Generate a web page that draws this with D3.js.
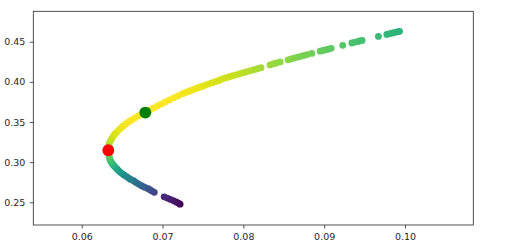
<!DOCTYPE html>
<html>
<head>
<meta charset="utf-8">
<script src="https://cdnjs.cloudflare.com/ajax/libs/d3/7.8.5/d3.min.js"></script>
<style>
    body { margin: 0; background: #fff; }
    svg { display: block; }
    .tick text { font-family: "DejaVu Sans", sans-serif; font-size: 9.5px; fill: #262626; }
    .tick line { stroke: #262626; stroke-width: 0.8; }
</style>
</head>
<body>
<svg width="517" height="252"></svg>
<script>
// DATA ======================================================================
// portfolio volatility / return along the frontier, bottom to top
const vols = [
    0.07217, 0.07195, 0.07168, 0.07132, 0.07095, 0.07058, 0.07020,
    0.06898, 0.06870, 0.06843, 0.06815, 0.06776, 0.06745, 0.06715, 0.06690, 0.06664,
    0.06640, 0.06606, 0.06580, 0.06555, 0.06527, 0.06500, 0.06475, 0.06455, 0.06436,
    0.06416, 0.06398, 0.06380, 0.06365, 0.06352, 0.06345, 0.06338, 0.06334, 0.06331,
    0.06330,
    0.06331, 0.06334, 0.06339, 0.06348, 0.06360, 0.06375, 0.06392, 0.06412, 0.06434,
    0.06458, 0.06485, 0.06515, 0.06546, 0.06580, 0.06618, 0.06658, 0.06700, 0.06745, 0.06795,
    0.06846, 0.06893, 0.06940, 0.06987, 0.07034, 0.07085, 0.07138, 0.07190, 0.07244,
    0.07275, 0.07305, 0.07338, 0.07370, 0.07402, 0.07435, 0.07470, 0.07505, 0.07540,
    0.07575, 0.07611, 0.07647, 0.07680, 0.07712,
    0.07749, 0.07790, 0.07830, 0.07870, 0.07910, 0.07950, 0.07990, 0.08030, 0.08070,
    0.08110, 0.08150, 0.08185, 0.08219,
    0.08330, 0.08370, 0.08410, 0.08456,
    0.08553, 0.08590, 0.08630, 0.08670, 0.08710, 0.08750, 0.08790, 0.08847,
    0.08950, 0.08985, 0.09020, 0.09055, 0.09086,
    0.09230,
    0.09342, 0.09375, 0.09410, 0.09440, 0.09469,
    0.09671,
    0.09775, 0.09810, 0.09845, 0.09880, 0.09910, 0.09933
];
const rets = [
    0.2477, 0.2490, 0.2505, 0.2521, 0.2537, 0.2553, 0.2568,
    0.2624, 0.2640, 0.2656, 0.2672, 0.2688, 0.2704, 0.2720, 0.2736, 0.2752,
    0.2768, 0.2785, 0.2802, 0.2820, 0.2838, 0.2857, 0.2876, 0.2895, 0.2915,
    0.2935, 0.2955, 0.2977, 0.3000, 0.3025, 0.3050, 0.3075, 0.3100, 0.3125,
    0.3150,
    0.3175, 0.3200, 0.3225, 0.3250, 0.3275, 0.3300, 0.3325, 0.3350, 0.3375,
    0.3400, 0.3425, 0.3450, 0.3475, 0.3500, 0.3525, 0.3550, 0.3575, 0.3600, 0.3625,
    0.3650, 0.3675, 0.3700, 0.3725, 0.3750, 0.3775, 0.3800, 0.3825, 0.3850,
    0.38625, 0.3875, 0.38875, 0.3900, 0.39125, 0.3925, 0.39375, 0.3950, 0.39625,
    0.3975, 0.39875, 0.4000, 0.40115, 0.4023,
    0.4040, 0.4052, 0.4064, 0.4076, 0.4088, 0.4099, 0.4111, 0.4122, 0.4134,
    0.4145, 0.4156, 0.4167, 0.4177,
    0.4211, 0.4223, 0.4235, 0.4248,
    0.4275, 0.4285, 0.4296, 0.4307, 0.4318, 0.4329, 0.4340, 0.4354,
    0.4382, 0.4391, 0.4400, 0.4409, 0.4418,
    0.4455,
    0.4484, 0.4492, 0.4501, 0.4509, 0.4516,
    0.4566,
    0.4591, 0.4600, 0.4609, 0.4617, 0.4624, 0.4630
];

// highlighted portfolios [vol, ret]
const minVolPoint = [0.06329, 0.3148];
const maxSharpePoint = [0.06787, 0.3618];

const xDomain = [0.05401, 0.10845];
const yDomain = [0.2217, 0.4879];
const xTicks = [0.06, 0.07, 0.08, 0.09, 0.10];
const yTicks = [0.25, 0.30, 0.35, 0.40, 0.45];

// LAYOUT ====================================================================
const MARGIN = { left: 33.3, right: 517 - 473.3, top: 11.3, bottom: 252 - 225 };

const svg = d3.select('svg');
const width = +svg.attr('width') - MARGIN.left - MARGIN.right;
const height = +svg.attr('height') - MARGIN.top - MARGIN.bottom;

const g = svg.append('g')
    .attr('transform', `translate(${MARGIN.left},${MARGIN.top})`);

const xScale = d3.scaleLinear().domain(xDomain).range([0, width]);
const yScale = d3.scaleLinear().domain(yDomain).range([height, 0]);

// colour by return / volatility, like the viridis colour map
const points = vols.map((v, i) => ({ vol: v, ret: rets[i], ratio: rets[i] / v }));
const colorScale = d3.scaleSequential(d3.interpolateViridis)
    .domain(d3.extent(points, d => d.ratio));

// MARKS =====================================================================
g.selectAll('.pt')
    .data(points)
    .enter()
    .append('circle')
    .classed('pt', true)
    .attr('cx', d => xScale(d.vol))
    .attr('cy', d => yScale(d.ret))
    .attr('r', 3.4)
    .attr('fill', d => colorScale(d.ratio));

g.append('circle')
    .attr('cx', xScale(minVolPoint[0]))
    .attr('cy', yScale(minVolPoint[1]))
    .attr('r', 5.9)
    .attr('fill', '#ff0000');

g.append('circle')
    .attr('cx', xScale(maxSharpePoint[0]))
    .attr('cy', yScale(maxSharpePoint[1]))
    .attr('r', 5.9)
    .attr('fill', '#008000');

// AXES ======================================================================
const xAxis = d3.axisBottom(xScale)
    .tickValues(xTicks)
    .tickFormat(d3.format('.2f'))
    .tickSize(3.5)
    .tickPadding(4.5);

const yAxis = d3.axisLeft(yScale)
    .tickValues(yTicks)
    .tickFormat(d3.format('.2f'))
    .tickSize(3.5)
    .tickPadding(4.5);

g.append('g')
    .attr('transform', `translate(0,${height})`)
    .call(xAxis)
    .call(a => a.select('.domain').remove());

g.append('g')
    .call(yAxis)
    .call(a => a.select('.domain').remove());

// frame
g.append('rect')
    .attr('width', width)
    .attr('height', height)
    .attr('fill', 'none')
    .attr('stroke', '#262626')
    .attr('stroke-width', 0.8);
</script>
</body>
</html>
